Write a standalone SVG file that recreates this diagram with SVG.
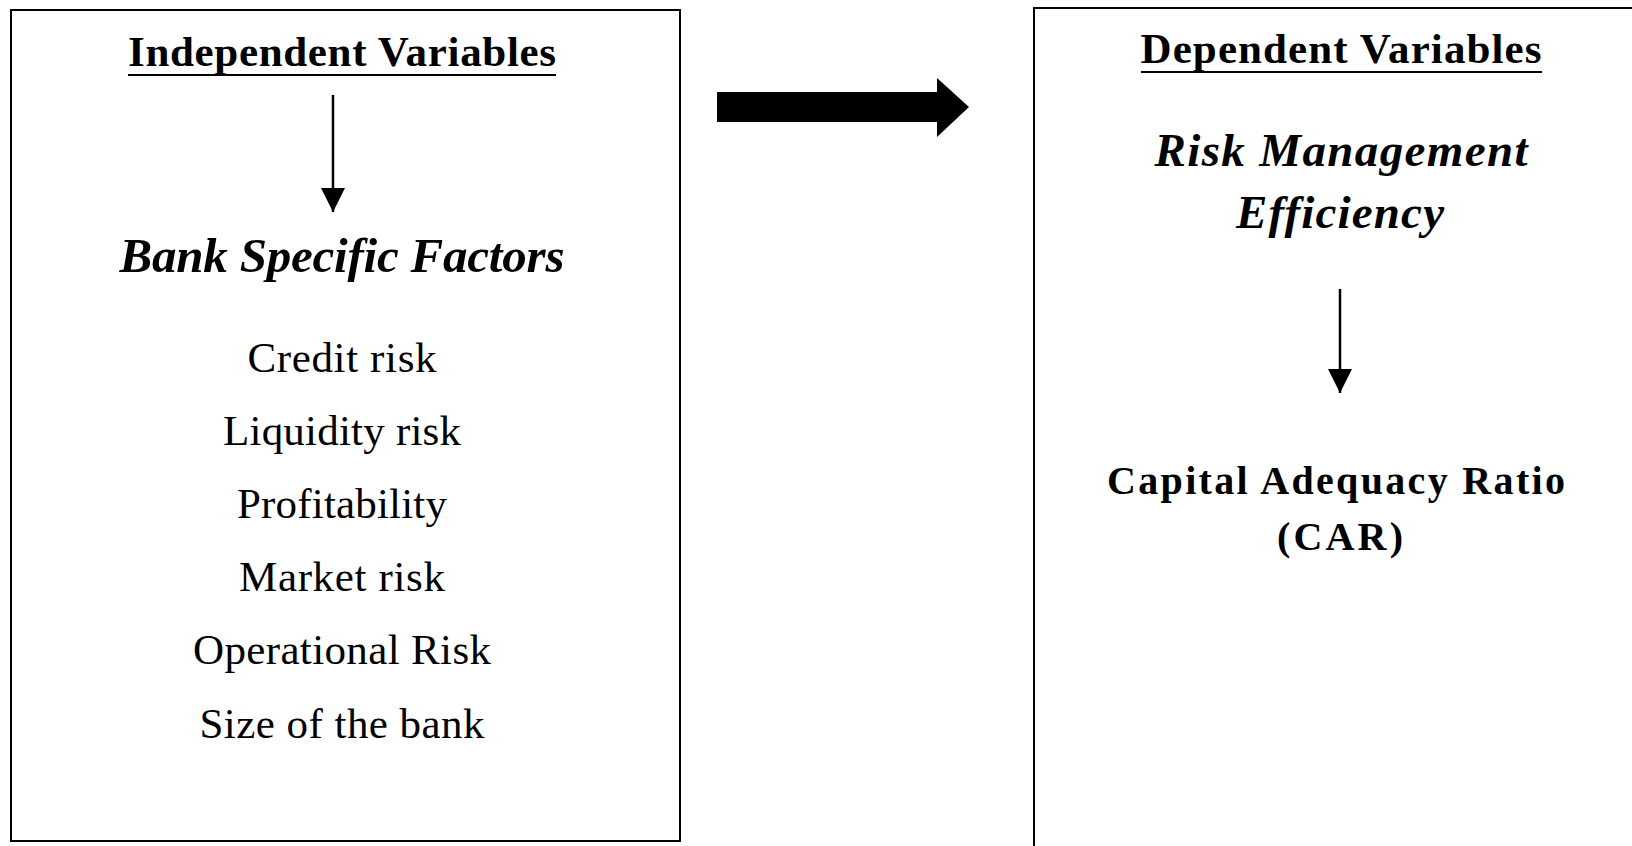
<svg xmlns="http://www.w3.org/2000/svg" width="1632" height="846" viewBox="0 0 1632 846">
<style>
text{font-family:"Liberation Serif","Times New Roman",serif;fill:#000;text-anchor:middle}
.hd{font-weight:bold;font-size:43px}
.bi{font-weight:bold;font-style:italic}
.it{font-size:43px}
.car{font-weight:bold;font-size:40px}
.box{fill:none;stroke:#000;stroke-width:2}
.ln{stroke:#000;stroke-width:2.5;fill:none}
</style>
<defs>
<marker id="ah" markerUnits="userSpaceOnUse" markerWidth="24" markerHeight="26" refX="24" refY="12" orient="auto">
<path d="M0,0 L24,12 L0,24 Z" fill="#000"/>
</marker>
</defs>
<rect width="1632" height="846" fill="#fff"/>
<g id="independent">
<rect class="box" x="11" y="10" width="669" height="831"/>
<text class="hd" x="342" y="66" textLength="428" lengthAdjust="spacing">Independent Variables</text>
<line x1="128" y1="75" x2="556" y2="75" stroke="#000" stroke-width="2"/>
<text class="bi" x="342" y="272" font-size="49" textLength="445" lengthAdjust="spacing">Bank Specific Factors</text>
<text class="it" x="342" y="372" textLength="189" lengthAdjust="spacing">Credit risk</text>
<text class="it" x="342" y="445" textLength="238" lengthAdjust="spacing">Liquidity risk</text>
<text class="it" x="342" y="518" textLength="210" lengthAdjust="spacing">Profitability</text>
<text class="it" x="342" y="591" textLength="206" lengthAdjust="spacing">Market risk</text>
<text class="it" x="342" y="664" textLength="298" lengthAdjust="spacing">Operational Risk</text>
<text class="it" x="342" y="738" textLength="285" lengthAdjust="spacing">Size of the bank</text>
</g>
<g id="dependent">
<path class="box" d="M1034,846 V8 H1640"/>
<text class="hd" x="1341" y="63" textLength="401" lengthAdjust="spacing">Dependent Variables</text>
<line x1="1141" y1="72" x2="1542" y2="72" stroke="#000" stroke-width="2"/>
<text class="bi" x="1341" y="166" font-size="47" textLength="373" lengthAdjust="spacing">Risk Management</text>
<text class="bi" x="1340" y="228" font-size="47" textLength="208" lengthAdjust="spacing">Efficiency</text>
<text class="car" x="1336" y="494" textLength="458" lengthAdjust="spacing">Capital Adequacy Ratio</text>
<text class="car" x="1340" y="550" textLength="126" lengthAdjust="spacing">(CAR)</text>
</g>
<g id="connectors">
<line class="ln" x1="333" y1="95" x2="333" y2="212" marker-end="url(#ah)"/>
<line class="ln" x1="1340" y1="289" x2="1340" y2="393" marker-end="url(#ah)"/>
<polygon points="717,92 937,92 937,78 969,107 937,137 937,122 717,122" fill="#000"/>
</g>
</svg>
